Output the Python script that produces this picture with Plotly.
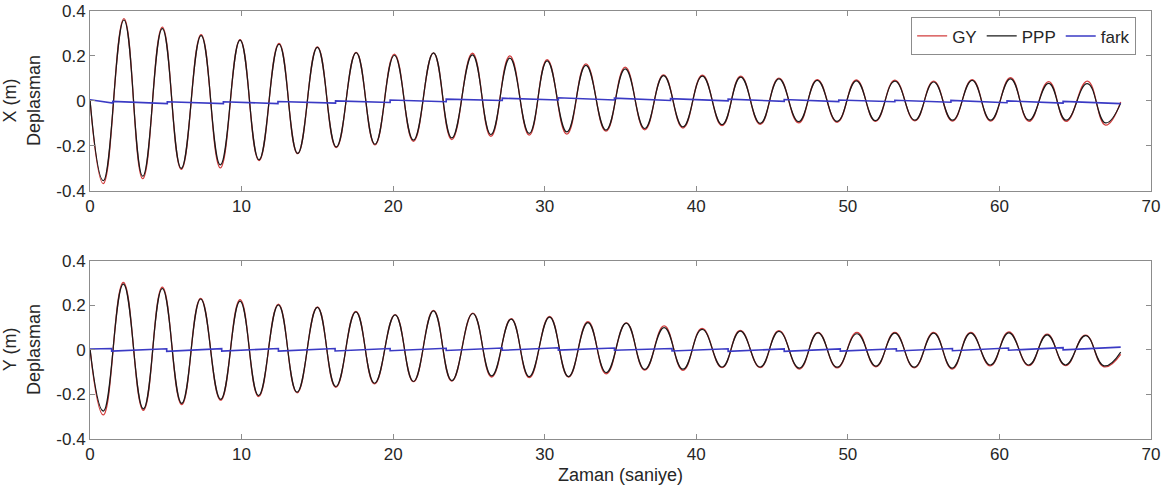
import plotly.graph_objects as go

# ---- X displacement: turning points (time s, metres) ----
x_t = [0.00, 0.88, 2.24, 3.48, 4.77, 6.02, 7.33, 8.60, 9.90, 11.15, 12.47, 13.70, 15.00,
       16.25, 17.56, 18.80, 20.08, 21.34, 22.66, 23.87, 25.23, 26.45, 27.70, 28.98,
       30.16, 31.46, 32.72, 34.04, 35.31, 36.60, 37.84, 39.12, 40.40, 41.70, 42.93,
       44.22, 45.45, 46.75, 47.98, 49.29, 50.56, 51.82, 53.10, 54.42, 55.66, 56.90,
       58.20, 59.42, 60.73, 61.95, 63.25, 64.40, 65.80, 67.00, 68.00]
x_ppp = [0.005, -0.355, 0.360, -0.335, 0.322, -0.300, 0.290, -0.285, 0.270, -0.262, 0.252,
         -0.234, 0.238, -0.205, 0.215, -0.193, 0.203, -0.175, 0.214, -0.165, 0.205, -0.150,
         0.190, -0.145, 0.178, -0.138, 0.158, -0.130, 0.142, -0.123, 0.112, -0.116, 0.110,
         -0.106, 0.106, -0.100, 0.098, -0.092, 0.091, -0.091, 0.089, -0.088, 0.088, -0.086,
         0.084, -0.086, 0.091, -0.086, 0.098, -0.086, 0.078, -0.086, 0.077, -0.098, -0.010]
x_gy = [0.005, -0.368, 0.366, -0.346, 0.328, -0.305, 0.295, -0.298, 0.273, -0.266, 0.256,
        -0.235, 0.240, -0.208, 0.216, -0.196, 0.208, -0.180, 0.214, -0.172, 0.212, -0.158,
        0.200, -0.152, 0.183, -0.148, 0.165, -0.135, 0.150, -0.129, 0.116, -0.121, 0.114,
        -0.110, 0.110, -0.104, 0.101, -0.098, 0.095, -0.095, 0.093, -0.091, 0.092, -0.089,
        0.088, -0.090, 0.095, -0.090, 0.103, -0.091, 0.086, -0.091, 0.088, -0.108, -0.005]

# ---- Y displacement: turning points ----
y_t = [0.00, 0.88, 2.20, 3.52, 4.77, 6.05, 7.30, 8.62, 9.90, 11.12, 12.43, 13.66, 15.00,
       16.22, 17.54, 18.77, 20.13, 21.34, 22.66, 23.87, 25.26, 26.50, 27.79, 28.98,
       30.32, 31.57, 32.85, 34.06, 35.38, 36.60, 37.88, 39.12, 40.38, 41.70, 42.90,
       44.22, 45.45, 46.80, 48.03, 49.29, 50.60, 51.85, 53.10, 54.38, 55.66, 56.88,
       58.10, 59.40, 60.62, 61.94, 63.15, 64.36, 65.68, 66.90, 68.00]
y_ppp = [0.004, -0.275, 0.295, -0.265, 0.275, -0.240, 0.228, -0.222, 0.218, -0.205, 0.202,
         -0.190, 0.190, -0.165, 0.170, -0.150, 0.157, -0.142, 0.175, -0.138, 0.163, -0.117,
         0.138, -0.120, 0.147, -0.120, 0.122, -0.102, 0.120, -0.088, 0.100, -0.087, 0.092,
         -0.077, 0.084, -0.077, 0.083, -0.082, 0.076, -0.078, 0.072, -0.073, 0.075, -0.078,
         0.075, -0.082, 0.075, -0.068, 0.076, -0.068, 0.067, -0.068, 0.064, -0.072, -0.010]
y_gy = [0.004, -0.292, 0.302, -0.271, 0.281, -0.246, 0.231, -0.226, 0.225, -0.210, 0.205,
        -0.193, 0.192, -0.168, 0.172, -0.153, 0.158, -0.143, 0.177, -0.140, 0.165, -0.122,
        0.140, -0.125, 0.150, -0.122, 0.126, -0.108, 0.121, -0.091, 0.107, -0.092, 0.096,
        -0.080, 0.087, -0.080, 0.086, -0.086, 0.078, -0.081, 0.078, -0.076, 0.078, -0.081,
        0.078, -0.086, 0.078, -0.072, 0.080, -0.071, 0.070, -0.071, 0.066, -0.076, -0.020]

# ---- difference (fark): step times with level before / after each step ----
fx_start = (0.0, 0.005)
fx_steps = [1.5, 5.1, 8.8, 12.4, 16.2, 19.8, 23.5, 27.2, 30.9, 34.6, 38.3, 42.1,
            45.8, 49.4, 53.1, 56.8, 60.5, 64.2]
fx_before = [-0.010, -0.012, -0.012, -0.012, -0.010, -0.007, -0.004, 0.002, 0.004,
             0.004, 0.002, 0.000, -0.002, -0.003, -0.004, -0.006, -0.008, -0.010]
fx_after = [-0.002, -0.004, -0.004, -0.003, 0.000, 0.004, 0.008, 0.012, 0.014,
            0.012, 0.010, 0.008, 0.006, 0.004, 0.003, 0.002, 0.000, -0.002]
fx_end = (68.0, -0.012)

fy_start = (0.0, 0.004)
fy_steps = [1.43, 5.06, 8.69, 12.43, 16.17, 19.8, 23.5, 27.2, 30.9, 34.6, 38.4, 42.1,
            45.8, 49.5, 53.2, 56.9, 60.6, 64.2]
fy_before = [0.006, 0.005, 0.005, 0.006, 0.006, 0.006, 0.007, 0.008, 0.009, 0.008,
             0.006, 0.005, 0.004, 0.004, 0.005, 0.006, 0.008, 0.010]
fy_after = [-0.006, -0.007, -0.006, -0.006, -0.005, -0.004, -0.003, -0.002, -0.001,
            -0.002, -0.005, -0.007, -0.007, -0.006, -0.005, -0.004, -0.002, 0.000]
fy_end = (68.0, 0.012)

x_ticks = [0, 10, 20, 30, 40, 50, 60, 70]
y_ticks = [-0.4, -0.2, 0, 0.2, 0.4]
y_tick_text = ["-0.4", "-0.2", "0", "0.2", "0.4"]


def step_path(start, steps, before, after, end):
    xs, ys = [start[0]], [start[1]]
    for t, b, a in zip(steps, before, after):
        xs += [t, t]
        ys += [b, a]
    xs.append(end[0])
    ys.append(end[1])
    return xs, ys


RED = "#d23c3c"
BLACK = "#1a1a1a"
BLUE = "#3a3ac4"
FRAME = "#8c8c8c"
TEXT = "#262626"
FONT = "Arial, 'Liberation Sans', sans-serif"

fig = go.Figure()

panels = [
    ("x", "y", x_t, x_gy, x_ppp, step_path(fx_start, fx_steps, fx_before, fx_after, fx_end), True),
    ("x2", "y2", y_t, y_gy, y_ppp, step_path(fy_start, fy_steps, fy_before, fy_after, fy_end), False),
]
for xa, ya, t, gy, ppp, (ft, fv), show in panels:
    fig.add_trace(go.Scatter(x=t, y=gy, mode="lines", name="GY", xaxis=xa, yaxis=ya,
                             line=dict(color=RED, width=1.3, shape="spline", smoothing=1.3),
                             showlegend=show))
    fig.add_trace(go.Scatter(x=t, y=ppp, mode="lines", name="PPP", xaxis=xa, yaxis=ya,
                             line=dict(color=BLACK, width=1.2, shape="spline", smoothing=1.3),
                             showlegend=show))
    fig.add_trace(go.Scatter(x=ft, y=fv, mode="lines", name="fark", xaxis=xa, yaxis=ya,
                             line=dict(color=BLUE, width=1.6),
                             showlegend=show))

axis_common = dict(showline=True, mirror="ticks", linecolor=FRAME, linewidth=1,
                   ticks="inside", ticklen=5, tickcolor=FRAME, showgrid=False,
                   zeroline=False, automargin=False,
                   tickfont=dict(family=FONT, size=17, color=TEXT))

fig.update_layout(
    width=1171, height=488,
    margin=dict(l=90, r=20, t=11, b=49),
    paper_bgcolor="white", plot_bgcolor="white",
    font=dict(family=FONT, color=TEXT),
    xaxis=dict(domain=[0, 1], anchor="y", range=[0, 70], tickvals=x_ticks, **axis_common),
    yaxis=dict(domain=[0.58, 1], anchor="x", range=[-0.4, 0.4], tickvals=y_ticks,
               ticktext=y_tick_text, **axis_common),
    xaxis2=dict(domain=[0, 1], anchor="y2", range=[0, 70], tickvals=x_ticks, **axis_common),
    yaxis2=dict(domain=[0, 0.4167], anchor="x2", range=[-0.4, 0.4], tickvals=y_ticks,
                ticktext=y_tick_text, **axis_common),
    legend=dict(orientation="h", x=0.986, xanchor="right", y=0.985, yanchor="top",
                bordercolor=FRAME, borderwidth=1, bgcolor="white",
                font=dict(family=FONT, size=17, color=TEXT),
                itemwidth=30, tracegroupgap=0),
    annotations=[
        dict(text="X (m)<br>Deplasman", textangle=-90, xref="paper", yref="paper",
             x=-0.064, y=0.79, xanchor="center", yanchor="middle", showarrow=False,
             font=dict(family=FONT, size=18, color=TEXT)),
        dict(text="Y (m)<br>Deplasman", textangle=-90, xref="paper", yref="paper",
             x=-0.064, y=0.2083, xanchor="center", yanchor="middle", showarrow=False,
             font=dict(family=FONT, size=18, color=TEXT)),
        dict(text="Zaman (saniye)", xref="paper", yref="paper", x=0.5, y=-0.084,
             xanchor="center", yanchor="middle", showarrow=False,
             font=dict(family=FONT, size=18, color=TEXT)),
    ],
)

fig.write_html("out.html")
